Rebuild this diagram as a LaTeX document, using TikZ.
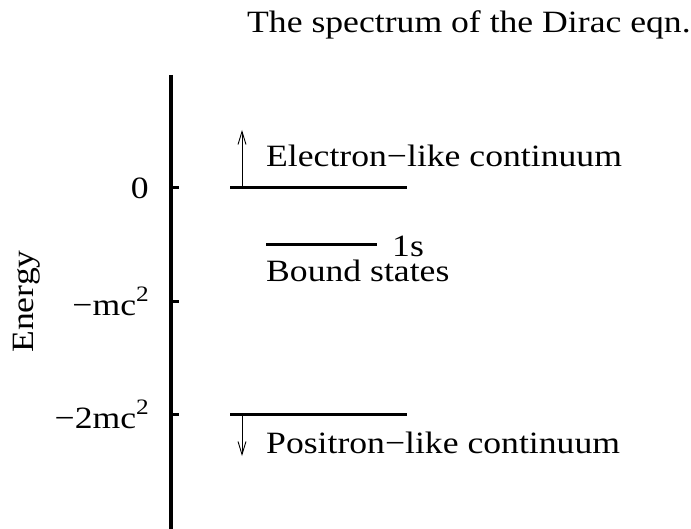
\documentclass[tikz,border=0pt]{standalone}
\usepackage{fontspec}
\setmainfont{Liberation Serif}[FakeStretch=1.15]
\usetikzlibrary{arrows.meta}

\tikzset{
  level/.style={line width=3pt},
  txt/.style={inner sep=0pt, font=\fontsize{31}{31}\selectfont},
  jump/.style={line width=0.9pt, -{Straight Barb[length=13pt,width=8pt]}},
}
\newcommand{\sqtwo}{\raisebox{14pt}{\fontsize{22}{22}\selectfont 2}}

\begin{document}
\begin{tikzpicture}[x=1pt,y=-1pt]
\def\ax{171}
\def\lx{230}
\def\rx{407}
\def\ezero{188}
\def\emc{301.5}
\def\etwo{414}

\useasboundingbox (0,0) rectangle (691,529);

% energy axis
\coordinate (top) at (\ax,75);
\coordinate (bot) at (\ax,529);
\draw[line width=3.3pt] (top) -- (bot);
\foreach \y in {\ezero,\emc,\etwo}
  \draw[line width=3pt] (\ax,\y) -- ++(8,0);

\node[txt, anchor=east] (zero) at (149,\ezero) {0};
\node[txt, anchor=east] (mc) at (149,\emc) {−mc\sqtwo};
\node[txt, anchor=east] (twomc) at (149,\etwo) {−2mc\sqtwo};
\node[txt, rotate=90] (energy) at (26.7,301.5) {Energy};

% levels
\coordinate (el) at (\lx,\ezero);
\coordinate (er) at (\rx,\ezero);
\coordinate (pl) at (\lx,\etwo);
\coordinate (pr) at (\rx,\etwo);
\coordinate (bl) at (266,245);
\coordinate (br) at (377,245);
\draw[level] (el) -- (er);
\draw[level] (pl) -- (pr);
\draw[level] (bl) -- (br);

% continua
\coordinate (eup0) at (242,\ezero);
\coordinate (eup) at (242,130);
\coordinate (pdn0) at (242,\etwo);
\coordinate (pdn) at (242,456);
\draw[jump] (eup0) -- (eup);
\draw[jump] (pdn0) -- (pdn);

\node[txt, anchor=base west] (electron) at (266,167) {Electron−like continuum};
\node[txt, anchor=base west] (onesub) at (392,257) {1s};
\node[txt, anchor=base west] (bound) at (266,282) {Bound states};
\node[txt, anchor=base west] (positron) at (266,453) {Positron−like continuum};

\node[txt, anchor=base west] (title) at (247,33) {The spectrum of the Dirac eqn.};
\end{tikzpicture}
\end{document}
